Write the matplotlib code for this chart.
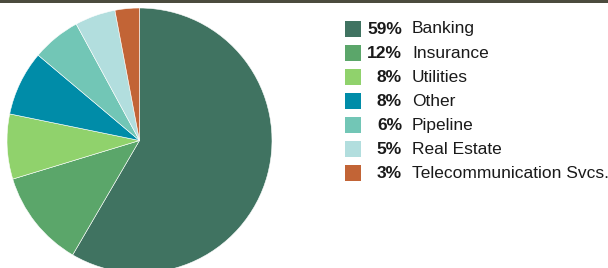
import matplotlib
matplotlib.use("Agg")
import matplotlib.pyplot as plt
from matplotlib.patches import Rectangle

sectors = ["Banking", "Insurance", "Utilities", "Other", "Pipeline",
           "Real Estate", "Telecommunication Svcs."]
weights = [59, 12, 8, 8, 6, 5, 3]
colors = ["#407361", "#5ba66a", "#90d26c", "#008ca8", "#72c6b6",
          "#b2dede", "#c26436"]

plt.rcParams['font.family'] = ['Liberation Sans', 'DejaVu Sans']

W, H = 608, 268
fig = plt.figure(figsize=(W / 100, H / 100), dpi=100)
fig.patch.set_facecolor("white")

# dark rule across the top
fig.add_artist(Rectangle((0, 1 - 3 / H), 1, 3 / H, transform=fig.transFigure,
                         color="#4b4b3e", lw=0))

# pie (slightly cropped at the bottom)
cx, cy, r = 139.5, 140.5, 132.5
ax = fig.add_axes([(cx - r) / W, (H - cy - r) / H, 2 * r / W, 2 * r / H])
ax.pie(weights, colors=colors, startangle=90, counterclock=False,
       radius=1, wedgeprops=dict(linewidth=0.4, edgecolor="white"))
ax.set_xlim(-1, 1)
ax.set_ylim(-1, 1)
ax.set_aspect("auto")
ax.axis("off")

# legend
y0, step = 29, 24
for i, (name, w, c) in enumerate(zip(sectors, weights, colors)):
    y = y0 + i * step
    fig.add_artist(Rectangle((345 / W, 1 - (y + 8) / H), 16 / W, 16 / H,
                             transform=fig.transFigure, color=c, lw=0))
    fig.text(402 / W, 1 - y / H, f"{w}%", ha="right", va="center",
             fontsize=12.5, fontweight="bold", color="#1a1a1a")
    fig.text(412 / W, 1 - y / H, name, ha="left", va="center",
             fontsize=12.5, color="#1a1a1a")

fig.savefig("out.png", dpi=100)
